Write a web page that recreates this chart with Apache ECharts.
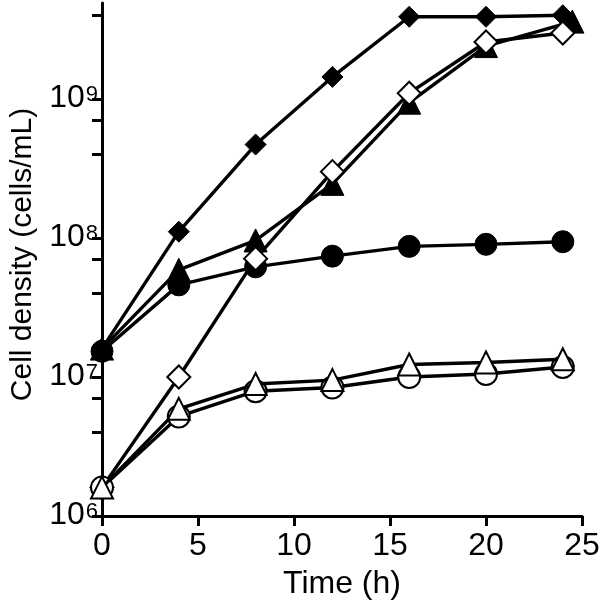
<!DOCTYPE html>
<html>
<head>
<meta charset="utf-8">
<script src="https://cdn.jsdelivr.net/npm/echarts@6/dist/echarts.min.js"></script>
<style>html,body{margin:0;padding:0;background:#fff;}#c{width:600px;height:602px;}</style>
</head>
<body>
<div id="c"></div>
<script>
// Time points (h)
var timeA = [0, 4, 8, 12, 16, 20, 24];
var timeTriFilled = [0, 4, 8, 12, 16, 20, 24.5];
// Cell density (cells/mL)
var filledDiamond = [1.6e7, 1.11e8, 4.7e8, 1.44e9, 3.9e9, 3.9e9, 4.0e9];
var filledTriangle = [1.6e7, 5.9e7, 9.6e7, 2.45e8, 9.4e8, 2.4e9, 3.6e9];
var filledCircle = [1.53e7, 4.6e7, 6.2e7, 7.4e7, 8.7e7, 9.0e7, 9.4e7];
var openDiamond = [1.6e6, 1.0e7, 7.1e7, 3.0e8, 1.1e9, 2.57e9, 2.98e9];
var openTriangle = [1.6e6, 5.9e6, 8.9e6, 9.5e6, 1.23e7, 1.27e7, 1.34e7];
var openCircle = [1.6e6, 5.2e6, 7.9e6, 8.4e6, 1.0e7, 1.05e7, 1.18e7];
var yMajorTicks = [1e6, 1e7, 1e8, 1e9];
var yAllTicks = [1e6, 4e6, 7e6, 1e7, 4e7, 7e7, 1e8, 4e8, 7e8, 1e9, 4e9];
var xTicks = [0, 5, 10, 15, 20, 25];

function pairs(xs, ys) { return xs.map(function (x, i) { return [x, ys[i]]; }); }

var FONT = 'Liberation Sans';
function mk(name, xs, ys, symbol, size, filled, z) {
  return {
    name: name, type: 'line', data: pairs(xs, ys), symbol: symbol, symbolSize: size,
    showAllSymbol: true, clip: false, z: z,
    lineStyle: { color: '#000', width: 3.4 },
    itemStyle: { color: filled ? '#000' : '#fff', borderColor: '#000', borderWidth: filled ? 1 : 2 },
    emphasis: { disabled: true }
  };
}

var chart = echarts.init(document.getElementById('c'), null, { renderer: 'canvas' });
chart.setOption({
  animation: false,
  backgroundColor: '#fff',
  grid: { left: 102, right: 18, top: 3, bottom: 86, containLabel: false, outerBoundsMode: 'none' },
  xAxis: {
    type: 'value', min: 0, max: 25, interval: 5,
    name: 'Time (h)', nameLocation: 'middle', nameGap: 52,
    nameTextStyle: { fontFamily: FONT, fontSize: 32, color: '#000' },
    axisLine: { show: true, onZero: false, lineStyle: { color: '#000', width: 3 } },
    axisTick: { show: true, length: 10, lineStyle: { color: '#000', width: 3 }, customValues: xTicks },
    axisLabel: { fontFamily: FONT, fontSize: 32, color: '#000', margin: 14, customValues: xTicks },
    splitLine: { show: false }
  },
  yAxis: {
    type: 'log', logBase: 10, min: 1e6, max: 4.9e9,
    name: 'Cell density (cells/mL)', nameLocation: 'middle', nameGap: 64,
    nameTextStyle: { fontFamily: FONT, fontSize: 30, color: '#000', padding: [0, 0, 0, 10] },
    axisLine: { show: true, lineStyle: { color: '#000', width: 3 } },
    axisTick: { show: true, length: 10, lineStyle: { color: '#000', width: 3 }, customValues: yAllTicks },
    axisLabel: {
      customValues: yMajorTicks, margin: 4,
      formatter: function (v) { return '{b|10}{s|' + Math.round(Math.log10(v)) + '}'; },
      rich: {
        b: { fontFamily: FONT, fontSize: 32, color: '#000', lineHeight: 30, verticalAlign: 'bottom' },
        s: { fontFamily: FONT, fontSize: 22, color: '#000', lineHeight: 22, padding: [0, 0, 22, 1], verticalAlign: 'top' }
      }
    },
    splitLine: { show: false },
    minorTick: { show: false }
  },
  series: [
    mk('filledCircle', timeA, filledCircle, 'circle', 22, true, 2),
    mk('filledDiamond', timeA, filledDiamond, 'diamond', 21, true, 3),
    mk('filledTriangle', timeTriFilled, filledTriangle, 'triangle', 23, true, 4),
    mk('openDiamond', timeA, openDiamond, 'diamond', 23, false, 5),
    mk('openCircle', timeA, openCircle, 'circle', 22, false, 6),
    mk('openTriangle', timeA, openTriangle, 'triangle', 22, false, 7)
  ]
});
</script>
</body>
</html>
